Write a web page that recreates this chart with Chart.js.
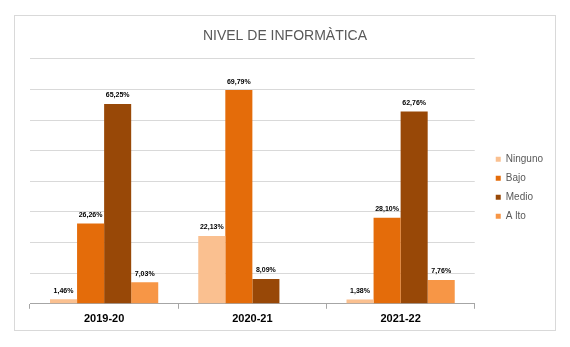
<!DOCTYPE html>
<html>
<head>
<meta charset="utf-8">
<script src="https://cdn.jsdelivr.net/npm/chart.js@4"></script>
<style>
  body { margin: 0; background: #fff; }
  #box { position: absolute; left: 14px; top: 15px; width: 540px; height: 314px; border: 1px solid #d9d9d9; }
</style>
</head>
<body>
<div id="box"><canvas id="ChartNivel"></canvas></div>
<script>
  var cursos = ['2019-20', '2020-21', '2021-22'];
  var ninguno = [1.46, 22.13, 1.38];
  var bajo = [26.26, 69.79, 28.10];
  var medio = [65.25, 8.09, 62.76];
  var alto = [7.03, null, 7.76];
  var yTicks = [0, 80, 10]; // min, max, step

  // etiquetas encima de cada barra
  var etiquetas = {
    id: 'etiquetas',
    afterDatasetsDraw: function(chart) {
      var ctx = chart.ctx;
      ctx.save();
      ctx.font = 'bold 7px "Liberation Sans", Arial, sans-serif';
      ctx.fillStyle = '#000';
      ctx.textAlign = 'center';
      ctx.textBaseline = 'bottom';
      chart.data.datasets.forEach(function(ds, i) {
        var meta = chart.getDatasetMeta(i);
        meta.data.forEach(function(bar, j) {
          var v = ds.data[j];
          if (v == null) return;
          ctx.fillText(v.toFixed(2).replace('.', ',') + '%', bar.x, bar.y - 5);
        });
      });
      ctx.restore();
    }
  };

  var ctx = document.getElementById('ChartNivel').getContext('2d');
  var barGraph = new Chart(ctx, {
    type: 'bar',
    data: {
      labels: cursos,
      datasets: [
        { label: 'Ninguno', data: ninguno, backgroundColor: '#FAC090' },
        { label: 'Bajo', data: bajo, backgroundColor: '#E46C0A' },
        { label: 'Medio', data: medio, backgroundColor: '#984807' },
        { label: 'A lto', data: alto, backgroundColor: '#F79646' }
      ]
    },
    options: {
      responsive: true,
      maintainAspectRatio: false,
      animation: false,
      datasets: { bar: { categoryPercentage: 0.73, barPercentage: 1 } },
      layout: { padding: { left: 2, right: 2, bottom: 0 } },
      plugins: {
        title: {
          display: true,
          text: 'NIVEL DE INFORMÀTICA',
          color: '#595959',
          font: { family: '"Liberation Sans", Arial, sans-serif', size: 14, weight: 'normal' },
          padding: { top: 12, bottom: 14 }
        },
        legend: {
          position: 'right',
          title: { display: true, text: ' ', padding: { top: 15, bottom: 0 } },
          labels: {
            boxWidth: 5,
            boxHeight: 5,
            padding: 9,
            color: '#595959',
            font: { family: '"Liberation Sans", Arial, sans-serif', size: 10 }
          }
        },
        tooltip: { enabled: false }
      },
      scales: {
        x: {
          grid: { drawOnChartArea: false, drawTicks: true, tickLength: 5, color: '#a6a6a6' },
          border: { color: '#a6a6a6' },
          ticks: {
            color: '#000',
            padding: 4,
            font: { family: '"Liberation Sans", Arial, sans-serif', size: 11, weight: 'bold' }
          }
        },
        y: {
          position: 'left',
          min: yTicks[0],
          max: yTicks[1],
          ticks: { display: false, stepSize: yTicks[2] },
          grid: { color: '#d9d9d9', drawTicks: false },
          border: { display: false },
          afterFit: function(scale) { scale.width = 13; }
        },
        margen: {
          type: 'linear',
          position: 'right',
          ticks: { display: false },
          grid: { display: false },
          border: { display: false },
          afterFit: function(scale) { scale.width = 12; }
        }
      }
    },
    plugins: [etiquetas]
  });
</script>
</body>
</html>
